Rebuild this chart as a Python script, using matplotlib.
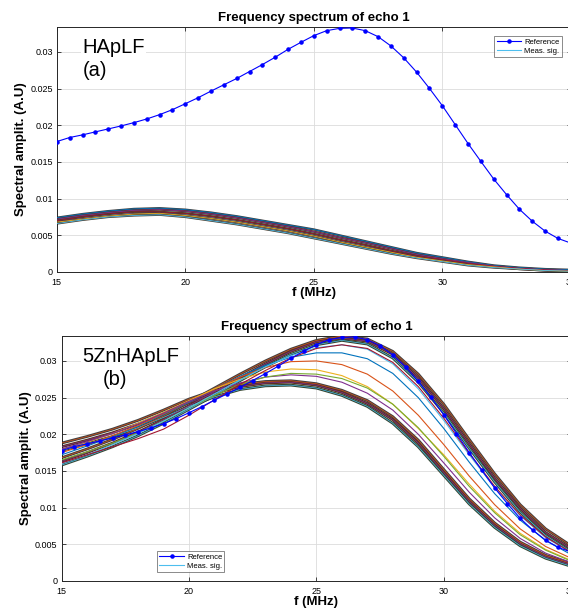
import numpy as np
import matplotlib.pyplot as plt

plt.rcParams['font.family'] = ['Liberation Sans', 'DejaVu Sans']

# reference spectrum, 0.5 MHz steps
f_ref = np.arange(15, 35.01, 0.5)
ref = [0.01778, 0.01833, 0.01869, 0.01910, 0.01950, 0.01991, 0.02036, 0.02086,
       0.02145, 0.02213, 0.02294, 0.02376, 0.02466, 0.02552, 0.02638, 0.02733,
       0.02828, 0.02928, 0.03036, 0.03131, 0.03222, 0.03290, 0.03321, 0.03326,
       0.03290, 0.03208, 0.03081, 0.02919, 0.02724, 0.02502, 0.02267, 0.02009,
       0.01751, 0.01507, 0.01267, 0.01054, 0.00855, 0.00692, 0.00557, 0.00457,
       0.00394]

# measured signals, 1 MHz steps
f_meas = np.arange(15, 36, 1)

# (a) HApLF
top_meas = [
    [0.0074, 0.0079, 0.0083, 0.0086, 0.0087, 0.0085, 0.0081, 0.0076, 0.0070, 0.0064, 0.0058,
     0.0050, 0.0042, 0.0034, 0.0026, 0.0020, 0.0014, 0.0009, 0.0006, 0.0004, 0.0003],
    [0.0072, 0.0077, 0.0081, 0.0084, 0.0085, 0.0083, 0.0079, 0.0074, 0.0068, 0.0062, 0.0055,
     0.0047, 0.0040, 0.0032, 0.0024, 0.0018, 0.0013, 0.0008, 0.0005, 0.0003, 0.0002],
    [0.0070, 0.0075, 0.0079, 0.0082, 0.0082, 0.0080, 0.0076, 0.0071, 0.0065, 0.0059, 0.0052,
     0.0044, 0.0037, 0.0029, 0.0022, 0.0017, 0.0012, 0.0008, 0.0005, 0.0003, 0.0002],
    [0.0068, 0.0072, 0.0076, 0.0079, 0.0080, 0.0077, 0.0073, 0.0068, 0.0062, 0.0056, 0.0049,
     0.0041, 0.0034, 0.0027, 0.0020, 0.0015, 0.0010, 0.0007, 0.0004, 0.0002, 0.0001],
    [0.0066, 0.0071, 0.0075, 0.0077, 0.0078, 0.0075, 0.0070, 0.0065, 0.0059, 0.0053, 0.0046,
     0.0039, 0.0032, 0.0025, 0.0019, 0.0014, 0.0009, 0.0006, 0.0004, 0.0002, 0.0001],
]

# (b) 5ZnHApLF
bot_band_low = [
    [0.0188, 0.0197, 0.0207, 0.0219, 0.0233, 0.0248, 0.0260, 0.0268, 0.0272, 0.0273, 0.0269,
     0.0260, 0.0246, 0.0224, 0.0192, 0.0152, 0.0112, 0.0079, 0.0053, 0.0035, 0.0024],
    [0.0183, 0.0192, 0.0202, 0.0214, 0.0228, 0.0243, 0.0256, 0.0265, 0.0270, 0.0271, 0.0267,
     0.0257, 0.0242, 0.0220, 0.0188, 0.0148, 0.0109, 0.0076, 0.0051, 0.0033, 0.0022],
    [0.0178, 0.0187, 0.0197, 0.0209, 0.0223, 0.0238, 0.0251, 0.0261, 0.0266, 0.0267, 0.0263,
     0.0253, 0.0238, 0.0215, 0.0183, 0.0144, 0.0105, 0.0073, 0.0048, 0.0031, 0.0020],
]
bot_band_high = [
    [0.0168, 0.0180, 0.0193, 0.0208, 0.0225, 0.0244, 0.0263, 0.0282, 0.0300, 0.0316, 0.0328,
     0.0334, 0.0330, 0.0313, 0.0282, 0.0241, 0.0193, 0.0146, 0.0104, 0.0071, 0.0048],
    [0.0163, 0.0175, 0.0188, 0.0203, 0.0220, 0.0239, 0.0258, 0.0277, 0.0296, 0.0313, 0.0326,
     0.0331, 0.0327, 0.0309, 0.0277, 0.0235, 0.0187, 0.0140, 0.0099, 0.0066, 0.0044],
    [0.0158, 0.0170, 0.0183, 0.0198, 0.0215, 0.0234, 0.0253, 0.0273, 0.0292, 0.0309, 0.0322,
     0.0328, 0.0323, 0.0304, 0.0271, 0.0229, 0.0181, 0.0135, 0.0094, 0.0062, 0.0040],
]
bot_single = [
    [0.0172, 0.0184, 0.0197, 0.0211, 0.0227, 0.0244, 0.0262, 0.0279, 0.0294, 0.0305, 0.0311,
     0.0311, 0.0303, 0.0283, 0.0250, 0.0208, 0.0162, 0.0119, 0.0083, 0.0055, 0.0036],
    [0.0175, 0.0186, 0.0198, 0.0212, 0.0228, 0.0245, 0.0262, 0.0278, 0.0291, 0.0299, 0.0300,
     0.0295, 0.0282, 0.0259, 0.0226, 0.0186, 0.0143, 0.0104, 0.0071, 0.0047, 0.0031],
    [0.0178, 0.0189, 0.0201, 0.0215, 0.0230, 0.0246, 0.0262, 0.0275, 0.0285, 0.0289, 0.0288,
     0.0280, 0.0265, 0.0241, 0.0208, 0.0172, 0.0132, 0.0095, 0.0065, 0.0043, 0.0028],
    [0.0180, 0.0190, 0.0201, 0.0214, 0.0229, 0.0245, 0.0259, 0.0270, 0.0278, 0.0281, 0.0279,
     0.0271, 0.0256, 0.0233, 0.0200, 0.0161, 0.0121, 0.0086, 0.0058, 0.0038, 0.0025],
    [0.0165, 0.0176, 0.0188, 0.0202, 0.0218, 0.0236, 0.0253, 0.0268, 0.0278, 0.0283, 0.0282,
     0.0276, 0.0263, 0.0241, 0.0209, 0.0170, 0.0129, 0.0093, 0.0063, 0.0042, 0.0027],
    [0.0160, 0.0172, 0.0186, 0.0201, 0.0218, 0.0236, 0.0255, 0.0274, 0.0292, 0.0307, 0.0318,
     0.0322, 0.0316, 0.0296, 0.0262, 0.0219, 0.0172, 0.0127, 0.0089, 0.0059, 0.0039],
    [0.0161, 0.0172, 0.0183, 0.0194, 0.0207, 0.0226, 0.0247, 0.0268, 0.0287, 0.0304, 0.0317,
     0.0322, 0.0317, 0.0298, 0.0265, 0.0222, 0.0174, 0.0129, 0.0090, 0.0060, 0.0039],
]

x_ticks = [15, 20, 25, 30, 35]
y_ticks = [0, 0.005, 0.01, 0.015, 0.02, 0.025, 0.03]
y_tick_labels = ['0', '0.005', '0.01', '0.015', '0.02', '0.025', '0.03']

matlab_colors = ['#0072BD', '#D95319', '#EDB120', '#7E2F8E', '#77AC30', '#4DBEEE', '#A2142F']
band_dark = ['#404040', '#5a3020', '#354530', '#3e3448', '#4a3c2c']


def style_axes(ax, label, sub, lab_x, sub_x):
    ax.set_xlim(15, 35)
    ax.set_ylim(0, 0.0334)
    ax.set_xticks(x_ticks)
    ax.set_xticklabels([str(t) for t in x_ticks])
    ax.set_yticks(y_ticks)
    ax.set_yticklabels(y_tick_labels)
    ax.tick_params(direction='in', top=True, right=True, labelsize=6.5,
                   length=3, width=0.6, color='#262626')
    ax.tick_params(axis='x', pad=4)
    ax.tick_params(axis='y', pad=3)
    ax.grid(True, color='#dcdcdc', linewidth=0.6)
    ax.set_axisbelow(True)
    for s in ax.spines.values():
        s.set_color('#262626')
        s.set_linewidth(0.7)
    ax.set_title('Frequency spectrum of echo 1', fontsize=9.5, fontweight='bold', pad=4)
    ax.set_xlabel('f (MHz)', fontsize=9.5, fontweight='bold', labelpad=0)
    ax.set_ylabel('Spectral amplit. (A.U)', fontsize=9.5, fontweight='bold', labelpad=2)
    box = dict(facecolor='white', edgecolor='none', pad=1)
    ax.text(lab_x, 0.918, label, transform=ax.transAxes, fontsize=14.5,
            va='center', ha='left', bbox=box, zorder=5)
    ax.text(sub_x, 0.822, sub, transform=ax.transAxes, fontsize=14.5,
            va='center', ha='left', bbox=box, zorder=5)


fig = plt.figure(figsize=(5.68, 6.09), dpi=100)
ax1 = fig.add_axes([0.100, 0.5534, 0.905, 0.4023])
ax2 = fig.add_axes([0.1085, 0.046, 0.897, 0.4023])

# top panel
for i, y in enumerate(top_meas):
    ax1.plot(f_meas, y, color=band_dark[i % len(band_dark)], lw=1.6, zorder=2)
for i, y in enumerate(top_meas):
    ax1.plot(f_meas, y, color=matlab_colors[(i * 3) % 7], lw=0.6, zorder=3)
ax1.plot(f_ref, ref, color='blue', marker='.', markersize=4.5, lw=0.8, zorder=4,
         label='Reference')
ax1.plot([], [], color='#4DBEEE', lw=0.8, label='Meas. sig.')
style_axes(ax1, 'HApLF', '(a)', 0.05, 0.05)
ax1.legend(loc='upper right', fontsize=5.5, frameon=True, fancybox=False,
           edgecolor='#555555', handlelength=3.2, borderpad=0.3, labelspacing=0.2,
           handletextpad=0.4, borderaxespad=1.2).get_frame().set_linewidth(0.6)

# bottom panel
for group in (bot_band_low, bot_band_high):
    for i, y in enumerate(group):
        ax2.plot(f_meas, y, color=band_dark[i % len(band_dark)], lw=2.0, zorder=2)
    for i, y in enumerate(group):
        ax2.plot(f_meas, y, color=matlab_colors[(i * 2 + 1) % 7], lw=0.5, zorder=3)
for i, y in enumerate(bot_single):
    ax2.plot(f_meas, y, color=matlab_colors[i % 7], lw=0.8, zorder=3)
ax2.plot(f_ref, ref, color='blue', marker='.', markersize=4.5, lw=0.8, zorder=4,
         label='Reference')
ax2.plot([], [], color='#4DBEEE', lw=0.8, label='Meas. sig.')
style_axes(ax2, '5ZnHApLF', '(b)', 0.04, 0.08)
ax2.legend(loc='lower left', bbox_to_anchor=(0.18, 0.02), fontsize=5.5, frameon=True,
           fancybox=False, edgecolor='#555555', handlelength=3.2, borderpad=0.3,
           labelspacing=0.2, handletextpad=0.4).get_frame().set_linewidth(0.6)

fig.savefig('out.png', dpi=100)
